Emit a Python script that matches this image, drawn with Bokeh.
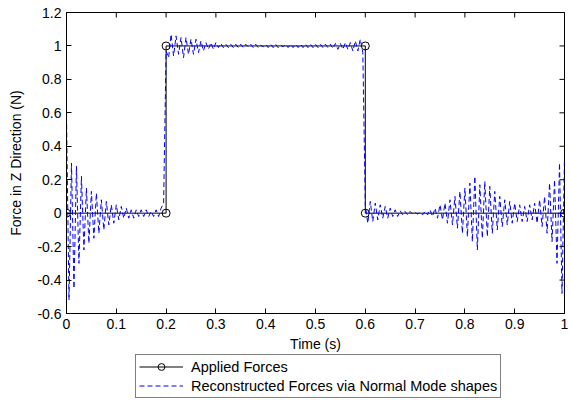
import numpy as np
from bokeh.plotting import figure
from bokeh.layouts import column
from bokeh.models import (Range1d, FixedTicker, Legend, LegendItem,
                          CustomJSTickFormatter)
from bokeh.embed import file_html
from bokeh.resources import INLINE

# ---- data ----
applied_t = [0.0, 0.2, 0.2, 0.6, 0.6, 1.0]
applied_f = [0.0, 0.0, 1.0, 1.0, 0.0, 0.0]

recon_low1 = [0.58, -0.52, 0.30, -0.45, 0.28, -0.30, 0.22, -0.22, 0.15, -0.18,
              0.13, -0.15, 0.12, -0.12, 0.08, -0.10, 0.07, -0.07, 0.05, -0.06,
              0.05, -0.04, 0.04, -0.03, 0.03, -0.03, 0.02, -0.03, 0.02, -0.02,
              0.02, -0.02, 0.02, -0.02, 0.01, -0.02, 0.02, -0.02, 0.03, 0.06]
recon_high = [0.97, 0.93, 1.07, 0.94, 1.06, 0.95, 1.05, 0.93, 1.05, 0.95,
              1.04, 0.95, 1.04, 0.96, 1.03, 0.97, 1.02, 0.98, 1.02, 0.98,
              1.02, 0.99, 1.015, 0.99, 1.01, 0.99, 1.01, 0.99, 1.01, 0.99,
              1.01, 0.99, 1.01, 0.995, 1.01, 0.99, 1.01, 0.99, 1.005, 0.995,
              1.01, 0.99, 1.01, 0.99, 1.01, 0.99, 1.005, 0.995, 1.01, 0.99,
              1.01, 0.99, 1.01, 0.99, 1.01, 0.99, 1.01, 0.99, 1.01, 0.99,
              1.01, 0.99, 1.01, 0.99, 1.01, 0.99, 1.01, 0.985, 1.015, 0.98,
              1.015, 0.98, 1.02, 0.98, 1.02, 0.97, 1.03, 0.97, 1.04, 0.96]
recon_low2 = [0.05, -0.06, 0.07, -0.05, 0.06, -0.04, 0.05, -0.03, 0.04, -0.03,
              0.03, -0.02, 0.02, -0.02, 0.015, -0.01, 0.01, -0.01, 0.01, -0.005,
              0.005, -0.005, 0.005, -0.01, 0.01, -0.01, 0.02, -0.02, 0.03, -0.03,
              0.05, -0.04, 0.06, -0.06, 0.08, -0.07, 0.10, -0.09, 0.13, -0.12,
              0.15, -0.14, 0.18, -0.17, 0.22, -0.22, 0.17, -0.15, 0.19, -0.14,
              0.16, -0.12, 0.13, -0.10, 0.10, -0.08, 0.08, -0.07, 0.07, -0.06,
              0.06, -0.05, 0.05, -0.05, 0.04, -0.05, 0.05, -0.04, 0.06, -0.06,
              0.08, -0.08, 0.10, -0.12, 0.18, -0.17, 0.20, -0.30, 0.30, -0.48,
              0.33]
recon_f = recon_low1 + recon_high + recon_low2
recon_t = list(np.round(np.arange(len(recon_f)) * 0.005, 4))

x_ticks = [0, 0.1, 0.2, 0.3, 0.4, 0.5, 0.6, 0.7, 0.8, 0.9, 1.0]
y_ticks = [-0.6, -0.4, -0.2, 0, 0.2, 0.4, 0.6, 0.8, 1.0, 1.2]
x_min, x_max = 0.0, 1.0
y_min, y_max = -0.6, 1.2

labels = ["Applied Forces", "Reconstructed Forces via Normal Mode shapes"]

FONT = "Liberation Sans"
BLUE = "#0000ff"

p = figure(width=571, height=354, output_backend="svg", toolbar_location=None,
           x_range=Range1d(x_min, x_max), y_range=Range1d(y_min, y_max),
           min_border_left=66, min_border_right=7, min_border_top=12,
           min_border_bottom=41)
p.xgrid.visible = False
p.ygrid.visible = False
p.outline_line_color = "black"
p.outline_line_alpha = 1
p.background_fill_color = "white"
p.border_fill_color = "white"

fmt = CustomJSTickFormatter(code="return String(Math.round(tick*10)/10)")
for ax, ticks in ((p.xaxis[0], x_ticks), (p.yaxis[0], y_ticks)):
    ax.ticker = FixedTicker(ticks=ticks)
    ax.formatter = fmt
    ax.major_tick_in = 5
    ax.major_tick_out = 0
    ax.minor_tick_line_color = None
    ax.axis_line_color = "black"
    ax.major_tick_line_color = "black"
    ax.major_label_text_font = FONT
    ax.major_label_text_font_size = "14px"
    ax.major_label_text_color = "black"
    ax.axis_label_text_font = FONT
    ax.axis_label_text_font_size = "14px"
    ax.axis_label_text_font_style = "normal"
    ax.axis_label_text_color = "black"

p.xaxis.axis_label = "Time (s)"
p.yaxis.axis_label = "Force in Z Direction (N)"
p.xaxis.major_label_standoff = 5
p.xaxis.axis_label_standoff = 4
p.yaxis.major_label_standoff = 5
p.yaxis.axis_label_standoff = 10

# inward ticks on the top and right edges of the box (half of each dash is clipped)
p.scatter(x_ticks, [y_max] * len(x_ticks), marker="dash", size=10, angle=np.pi / 2,
          line_color="black", line_width=1)
p.scatter([x_max] * len(y_ticks), y_ticks, marker="dash", size=10,
          line_color="black", line_width=1)

p.line(applied_t, applied_f, line_color="black", line_width=1)
p.scatter(applied_t, applied_f, marker="circle", size=8, line_color="black",
          fill_color=None, line_width=1)
p.line(recon_t, recon_f, line_color=BLUE, line_width=1, line_dash="5 3")

# legend strip below the axes (its frame is aligned with the plot frame above)
q = figure(width=571, height=46, output_backend="svg", toolbar_location=None,
           x_range=Range1d(0, 1), y_range=Range1d(0, 1),
           x_axis_type=None, y_axis_type=None,
           min_border_left=0, min_border_right=0, min_border_top=0,
           min_border_bottom=0)
q.xgrid.visible = False
q.ygrid.visible = False
q.outline_line_color = None
q.border_fill_color = "white"
# legend stand-ins drawn off-range, so only their legend samples show
ql1 = q.line([-3, -2], [-3, -2], line_color="black", line_width=1)
qm1 = q.scatter([-3, -2], [-3, -2], marker="circle", size=8, line_color="black",
                fill_color=None, line_width=1)
ql2 = q.line([-3, -2], [-3, -2], line_color=BLUE, line_width=1, line_dash="5 3")

legend = Legend(items=[LegendItem(label=labels[0], renderers=[ql1, qm1]),
                       LegendItem(label=labels[1], renderers=[ql2])],
                location=(69, 2), orientation="vertical",
                label_text_font=FONT, label_text_font_size="14.5px",
                label_text_color="black",
                glyph_width=44, glyph_height=17, label_height=17,
                spacing=2, padding=3, margin=0, label_standoff=8,
                border_line_color="black", border_line_width=1,
                background_fill_color="white", background_fill_alpha=1)
q.add_layout(legend, "center")

layout = column(p, q, spacing=0)
open("out.html", "w").write(file_html(layout, INLINE))
